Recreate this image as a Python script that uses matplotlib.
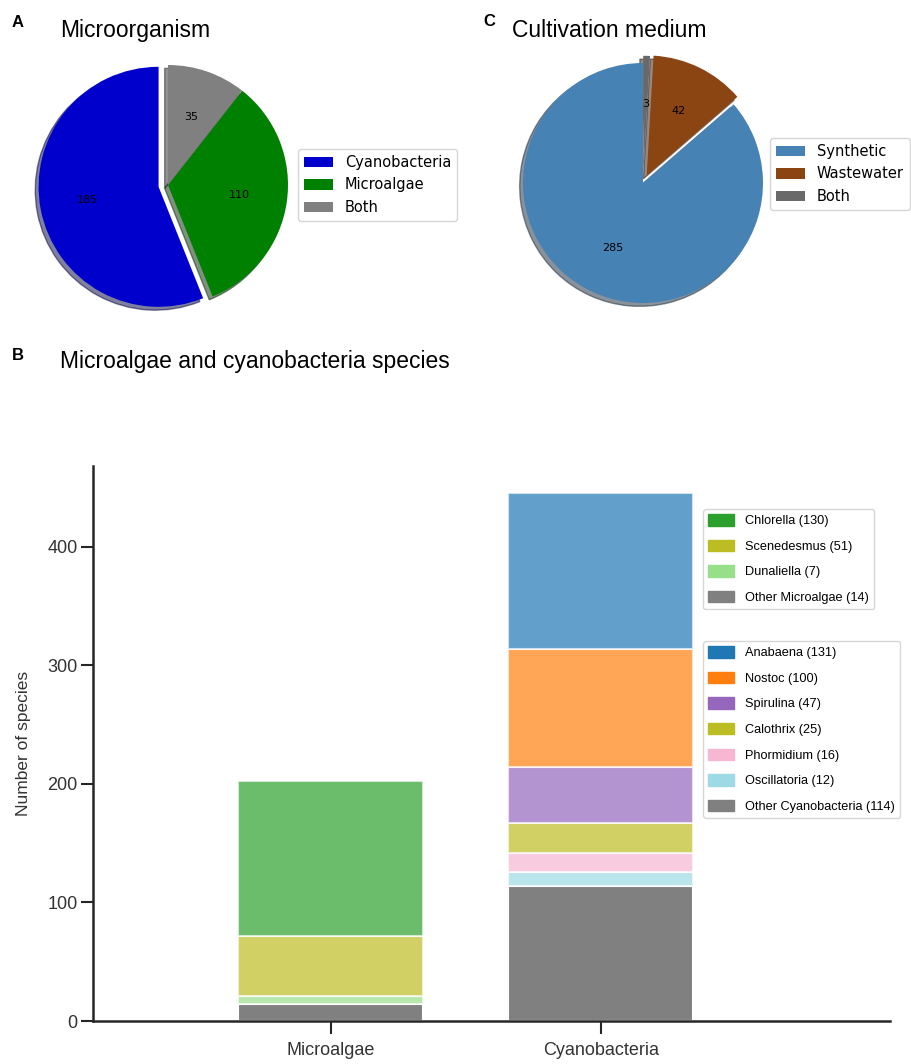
import matplotlib.pyplot as plt
from matplotlib.patches import Patch

# Panel A - microorganism
micro_labels = ['Cyanobacteria', 'Microalgae', 'Both']
micro_counts = [185, 110, 35]
micro_colors = ['mediumblue', 'green', 'gray']

# Panel C - cultivation medium
medium_labels = ['Synthetic', 'Wastewater', 'Both']
medium_counts = [285, 42, 3]
medium_colors = ['steelblue', 'saddlebrown', 'dimgray']

# Panel B - species (legend order, top of stack first)
groups = ['Microalgae', 'Cyanobacteria']
algae_species = ['Chlorella', 'Scenedesmus', 'Dunaliella', 'Other Microalgae']
algae_counts = [130, 51, 7, 14]
algae_colors = ['#2ca02c', '#bcbd22', '#98df8a', '#808080']
cyano_species = ['Anabaena', 'Nostoc', 'Spirulina', 'Calothrix',
                 'Phormidium', 'Oscillatoria', 'Other Cyanobacteria']
cyano_counts = [131, 100, 47, 25, 16, 12, 114]
cyano_colors = ['#1f77b4', '#ff7f0e', '#9467bd', '#bcbd22',
                '#f7b6d2', '#9edae5', '#808080']

W, H = 912, 1064
fig = plt.figure(figsize=(W / 100, H / 100), dpi=100)


def fx(px):
    return px / W


def fy(py):
    return 1 - py / H


def draw_pie(cx, cy, counts, colors, explode, labels, leg_x, leg_y):
    size = 300
    ax = fig.add_axes([fx(cx - size / 2), fy(cy + size / 2), size / W, size / H])
    total = sum(counts)
    wedges, _, _ = ax.pie(counts, colors=colors, explode=explode, startangle=90,
                          shadow=True, autopct=lambda p: f'{p * total / 100:.0f}',
                          textprops={'fontsize': 8, 'family': 'DejaVu Sans'})
    ax.set_xlim(-1.25, 1.25)
    ax.set_ylim(-1.25, 1.25)
    ax.set_aspect('equal')
    ax.legend(wedges, labels, loc='center left', bbox_to_anchor=(fx(leg_x), fy(leg_y)),
              bbox_transform=fig.transFigure, borderaxespad=0,
              prop={'family': 'DejaVu Sans', 'size': 10.5})
    return ax


draw_pie(168, 185, micro_counts, micro_colors, (0.08, 0, 0), micro_labels, 298, 185)
draw_pie(643, 183, medium_counts, medium_colors, (0, 0.07, 0.06), medium_labels, 770, 174)

# Panel B - stacked bars
ax = fig.add_axes([fx(93), fy(1021), (890 - 93) / W, (1021 - 466) / H])
bar_w = 0.685
for xi, counts, colors in [(0, algae_counts, algae_colors), (1, cyano_counts, cyano_colors)]:
    bottom = 0
    for val, col in zip(counts[::-1], colors[::-1]):
        a = 1.0 if col == '#808080' else 0.7
        ax.bar(xi, val, bar_w, bottom=bottom, color=col, alpha=a,
               edgecolor='white', linewidth=1.5)
        bottom += val

ax.set_xlim(-0.88, 2.07)
ax.set_ylim(0, 468)
ax.set_xticks([0, 1])
ax.set_xticklabels(groups)
ax.set_yticks([0, 100, 200, 300, 400])
for s in ['top', 'right']:
    ax.spines[s].set_visible(False)
for s in ['left', 'bottom']:
    ax.spines[s].set_linewidth(1.8)
    ax.spines[s].set_color('#262626')
ax.tick_params(axis='both', length=9, width=1.5, color='#262626',
               labelcolor='#333333', labelsize=13)
ax.tick_params(axis='x', pad=6)
ax.tick_params(axis='y', pad=2)
for lbl in ax.get_xticklabels() + ax.get_yticklabels():
    lbl.set_family('Liberation Sans')
ax.set_ylabel('Number of species', fontsize=12.5, color='#333333',
              family='Liberation Sans', labelpad=12)

small = {'family': 'Liberation Sans', 'size': 9.2}
leg_kw = dict(loc='upper left', bbox_transform=fig.transFigure, borderaxespad=0,
              prop=small, handlelength=2.0, handleheight=1.0,
              handletextpad=0.9, labelspacing=0.98)
h_algae = [Patch(color=c) for c in algae_colors]
h_cyano = [Patch(color=c) for c in cyano_colors]
leg1 = ax.legend(h_algae, [f'{s} ({n})' for s, n in zip(algae_species, algae_counts)],
                 bbox_to_anchor=(fx(703), fy(509)), **leg_kw)
ax.add_artist(leg1)
ax.legend(h_cyano, [f'{s} ({n})' for s, n in zip(cyano_species, cyano_counts)],
          bbox_to_anchor=(fx(703), fy(641)), **leg_kw)

# Panel letters and titles
for letter, x, y in [('A', 12, 27), ('C', 483, 26), ('B', 12, 360)]:
    fig.text(fx(x), fy(y), letter, fontsize=12, fontweight='bold',
             family='Liberation Sans', va='baseline')
for title, x, y in [('Microorganism', 60, 37), ('Cultivation medium', 512, 37),
                    ('Microalgae and cyanobacteria species', 60, 368)]:
    fig.text(fx(x), fy(y), title, fontsize=16.5, family='Liberation Sans',
             va='baseline')

fig.savefig('out.png', dpi=100)
